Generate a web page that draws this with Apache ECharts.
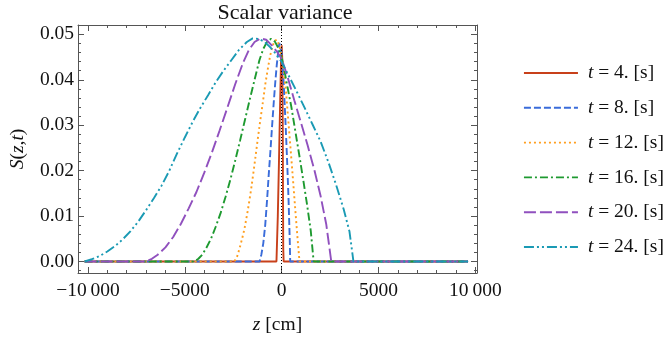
<!DOCTYPE html>
<html><head><meta charset="utf-8">
<script src="https://cdn.jsdelivr.net/npm/echarts@6/dist/echarts.min.js"></script>
<style>html,body{margin:0;padding:0;background:#fff}#c{width:667px;height:342px}</style>
</head><body><div id="c"></div>
<script>
// ---- data ----
const seriesTimes = ['4.', '8.', '12.', '16.', '20.', '24.'];

const zT4 = [-10170, -270, -200, -140, -80, -30, 0, 35, 55, 68, 80, 100, 9620];
const sT4 = [0, 0, 0.010, 0.022, 0.035, 0.045, 0.0476, 0.044, 0.030, 0.015, 0.003, 0, 0];

const zT8 = [-10170, -1140, -1050, -950, -850, -755, -670, -585, -500, -410, -330, -255, -185, -120, -70, 0, 50, 100, 150, 205, 260, 310, 355, 395, 420, 440, 9620];
const sT8 = [0, 0, 0.0015, 0.0040, 0.0080, 0.0135, 0.0190, 0.0241, 0.0295, 0.0350, 0.0395, 0.0432, 0.0460, 0.0481, 0.0480, 0.0458, 0.0430, 0.0395, 0.0350, 0.0299, 0.0243, 0.0189, 0.0135, 0.0079, 0.0040, 0, 0];

const zT12 = [-10170, -2440, -2300, -2180, -2050, -1920, -1750, -1580, -1420, -1270, -1120, -980, -850, -720, -600, -480, -360, -250, -130, 0, 100, 220, 320, 420, 520, 620, 720, 820, 920, 9620];
const sT12 = [0, 0, 0.0011, 0.0028, 0.0049, 0.0072, 0.0112, 0.0158, 0.0208, 0.0258, 0.0306, 0.0348, 0.0389, 0.0423, 0.0452, 0.0473, 0.0486, 0.0488, 0.0476, 0.0452, 0.0423, 0.0375, 0.0322, 0.0268, 0.0215, 0.0160, 0.0104, 0.0050, 0, 0];

const zT16 = [-10170, -4500, -4300, -4100, -3900, -3650, -3400, -3150, -2900, -2650, -2400, -2150, -1900, -1650, -1400, -1150, -950, -750, -550, -350, -150, 0, 150, 300, 500, 700, 900, 1100, 1300, 1500, 1650, 9620];
const sT16 = [0, 0, 0.0006, 0.0015, 0.0029, 0.0050, 0.0077, 0.0107, 0.0142, 0.0180, 0.0222, 0.0266, 0.0311, 0.0356, 0.0400, 0.0443, 0.0468, 0.0484, 0.0490, 0.0484, 0.0468, 0.0448, 0.0418, 0.0384, 0.0340, 0.0288, 0.0236, 0.0183, 0.0128, 0.0068, 0, 0];

const zT20 = [-10170, -7000, -6700, -6400, -6000, -5600, -5200, -4800, -4400, -4000, -3600, -3200, -2800, -2400, -2000, -1700, -1400, -1100, -800, -500, -250, 0, 300, 650, 1000, 1350, 1700, 2000, 2300, 2560, 9620];
const sT20 = [0, 0, 0.0006, 0.0015, 0.0031, 0.0054, 0.0083, 0.0117, 0.0153, 0.0195, 0.0240, 0.0289, 0.0339, 0.0390, 0.0437, 0.0465, 0.0483, 0.0491, 0.0488, 0.0475, 0.0462, 0.0446, 0.0407, 0.0355, 0.0305, 0.0254, 0.0199, 0.0146, 0.0082, 0, 0];

const zT24 = [-10170, -9800, -9400, -9000, -8600, -8200, -7800, -7400, -7000, -6600, -6200, -5800, -5400, -5000, -4600, -4200, -3800, -3400, -3000, -2600, -2200, -1800, -1500, -1200, -900, -600, -300, 0, 400, 800, 1200, 1600, 2000, 2400, 2800, 3200, 3500, 3705, 9620];
const sT24 = [0, 0.0005, 0.0012, 0.0022, 0.0034, 0.0049, 0.0067, 0.0088, 0.0113, 0.0139, 0.0167, 0.0200, 0.0238, 0.0273, 0.0307, 0.0338, 0.0366, 0.0395, 0.0420, 0.0443, 0.0466, 0.0483, 0.0491, 0.0490, 0.0484, 0.0472, 0.0457, 0.0439, 0.0406, 0.0372, 0.0337, 0.0301, 0.0265, 0.0220, 0.0170, 0.0115, 0.0066, 0, 0];

const xMajorTicks = [-10000, -5000, 0, 5000, 10000];
const xTickLabels = ['\u221210\u2009000', '\u22125000', '0', '5000', '10\u2009000'];
const yMajorTicks = [0, 0.01, 0.02, 0.03, 0.04, 0.05];
const yTickLabels = ['0.00', '0.01', '0.02', '0.03', '0.04', '0.05'];

// ---- styling ----
const colors = ['#C8401A', '#3A6CDA', '#FF9E1E', '#1E9A30', '#9050BE', '#1A9AB4'];
const dashes = ['solid', [7, 3], [2, 3], [8, 3, 2, 3], [12, 4], [10, 3, 2, 3, 2, 3]];
const zs = [zT4, zT8, zT12, zT16, zT20, zT24];
const ss = [sT4, sT8, sT12, sT16, sT20, sT24];

const X_MIN = -10514, X_MAX = 10082, Y_MIN = -0.00253, Y_MAX = 0.05205;
const FONT = '"Liberation Serif", "Times New Roman", serif';
const FRAME = '#555';
const FS = 19.5;

const xMinor = [], yMinor = [];
for (let v = -10000; v <= 10000; v += 1000) if (v % 5000 !== 0) xMinor.push(v);
for (let k = -1; k <= 26; k++) { if (k % 5 !== 0) yMinor.push(+(k * 0.002).toFixed(4)); }

function lblFmt(majors, labels) {
  return function (v) {
    for (let i = 0; i < majors.length; i++) if (Math.abs(v - majors[i]) < 1e-9) return labels[i];
    return '';
  };
}
const nameStyle = { fontFamily: FONT, fontSize: FS, color: '#111', rich: { i: { fontStyle: 'italic', fontFamily: FONT, fontSize: FS, color: '#111' } } };

function xAx(pos, major, showLabel) {
  return {
    type: 'value', position: pos, min: X_MIN, max: X_MAX, offset: 0,
    axisLine: { show: major, onZero: false, lineStyle: { color: FRAME, width: 1 } },
    splitLine: { show: false },
    axisTick: { show: true, inside: true, length: major ? 6 : 3, customValues: major ? xMajorTicks : xMinor, lineStyle: { color: FRAME, width: 1 } },
    axisLabel: showLabel ? { show: true, customValues: xMajorTicks, formatter: lblFmt(xMajorTicks, xTickLabels), fontFamily: FONT, fontSize: FS, color: '#111', margin: 8 } : { show: false },
    name: (pos === 'bottom' && showLabel) ? '{i|z} [cm]' : '',
    nameLocation: 'middle', nameGap: 42,
    nameTextStyle: nameStyle
  };
}
function yAx(pos, major, showLabel) {
  return {
    type: 'value', position: pos, min: Y_MIN, max: Y_MAX, offset: 0,
    axisLine: { show: major, onZero: false, lineStyle: { color: FRAME, width: 1 } },
    splitLine: { show: false },
    axisTick: { show: true, inside: true, length: major ? 6 : 3, customValues: major ? yMajorTicks : yMinor, lineStyle: { color: FRAME, width: 1 } },
    axisLabel: showLabel ? { show: true, customValues: yMajorTicks, formatter: lblFmt(yMajorTicks, yTickLabels), fontFamily: FONT, fontSize: FS, color: '#111', margin: 4 } : { show: false },
    name: (pos === 'left' && showLabel) ? '{i|S}({i|z},{i|t})' : '',
    nameLocation: 'middle', nameGap: 50, nameRotate: 90,
    nameTextStyle: nameStyle
  };
}

const series = zs.map((z, i) => ({
  name: 't = ' + seriesTimes[i] + ' [s]',
  type: 'line', xAxisIndex: 0, yAxisIndex: 0,
  data: z.map((v, j) => [v, ss[i][j]]),
  showSymbol: false, symbol: 'none', smooth: false, clip: true,
  lineStyle: { color: colors[i], width: 1.9, type: dashes[i] },
  itemStyle: { color: colors[i] },
  z: 2 + i,
  markLine: i === 0 ? {
    silent: true, symbol: 'none', label: { show: false },
    lineStyle: { color: '#000', type: [1, 2], width: 1 },
    data: [{ xAxis: 0 }]
  } : undefined
}));

const chart = echarts.init(document.getElementById('c'), null, { renderer: 'canvas' });
chart.setOption({
  animation: false,
  backgroundColor: '#fff',
  title: { text: 'Scalar variance', left: 280, top: -3, textAlign: 'center',
    textStyle: { fontFamily: FONT, fontSize: 22, fontWeight: 'normal', color: '#111' } },
  grid: { left: 76, right: 190, top: 25, bottom: 69, containLabel: false },
  xAxis: [xAx('bottom', true, true), xAx('bottom', false, false), xAx('top', true, false), xAx('top', false, false)],
  yAxis: [yAx('left', true, true), yAx('left', false, false), yAx('right', true, false), yAx('right', false, false)],
  legend: {
    orient: 'vertical', left: 523, top: 63, padding: 0, itemWidth: 54, itemHeight: 14, itemGap: 14.8,
    itemStyle: { opacity: 0, borderWidth: 0 },
    lineStyle: { width: 1.9, opacity: 1 },
    formatter: n => '{i|t}' + n.slice(1),
    textStyle: { fontFamily: FONT, fontSize: FS, color: '#111', lineHeight: 20, padding: [0, 0, 0, 5],
      rich: { i: { fontStyle: 'italic', fontFamily: FONT, fontSize: FS, color: '#111', lineHeight: 20 } } }
  },
  series: series
});
</script></body></html>
